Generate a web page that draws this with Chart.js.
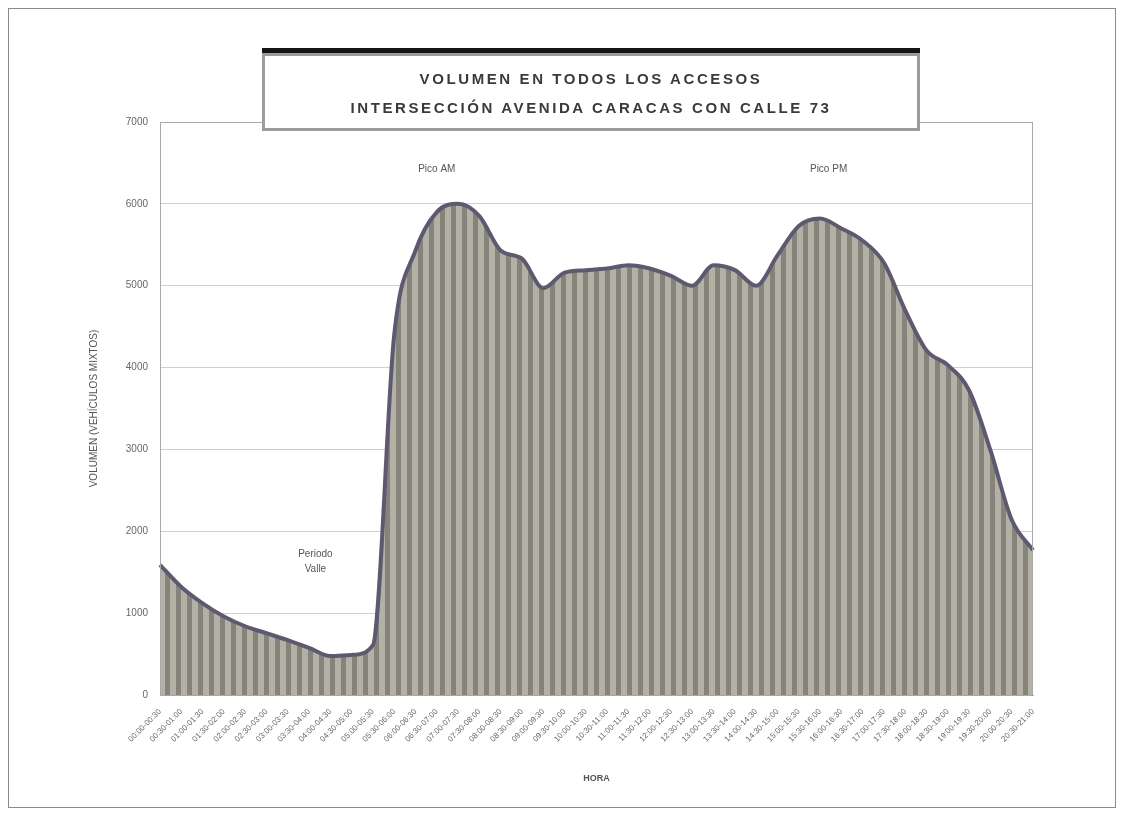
<!DOCTYPE html>
<html>
<head>
<meta charset="utf-8">
<title>Volumen en todos los accesos</title>
<script src="https://cdn.jsdelivr.net/npm/chart.js@4.4.1/dist/chart.umd.min.js"></script>
<style>
  body { margin: 0; background: #fff; font-family: "Liberation Sans", Arial, sans-serif; }
  #wrap { position: relative; width: 1124px; height: 816px; }
  #frame { position: absolute; left: 8px; top: 8px; width: 1106px; height: 798px; border: 1px solid #8a8a8a; }
  #titleBox {
    position: absolute; left: 262px; top: 53px; width: 652px; height: 72px;
    border: 3px solid #9c9c9c; box-shadow: 0 -5px 0 #151515; background: #fff;
    text-align: center; font-weight: bold; font-size: 15px; letter-spacing: 2.6px; color: #3a3a3a;
    line-height: 29px; padding-top: 8px; box-sizing: content-box; height: 64px;
  }
  canvas { position: absolute; left: 0; top: 0; }
</style>
</head>
<body>
<div id="wrap">
  <div id="frame"></div>
  <canvas id="volChart" width="1124" height="816"></canvas>
  <div id="titleBox">VOLUMEN EN TODOS LOS ACCESOS<br>INTERSECCIÓN AVENIDA CARACAS CON CALLE 73</div>
</div>
<script>
// time periods (30 min steps)
const periods = [
    '00:00-00:30', '00:30-01:00', '01:00-01:30', '01:30-02:00', '02:00-02:30', '02:30-03:00',
    '03:00-03:30', '03:30-04:00', '04:00-04:30', '04:30-05:00', '05:00-05:30', '05:30-06:00',
    '06:00-06:30', '06:30-07:00', '07:00-07:30', '07:30-08:00', '08:00-08:30', '08:30-09:00',
    '09:00-09:30', '09:30-10:00', '10:00-10:30', '10:30-11:00', '11:00-11:30', '11:30-12:00',
    '12:00-12:30', '12:30-13:00', '13:00-13:30', '13:30-14:00', '14:00-14:30', '14:30-15:00',
    '15:00-15:30', '15:30-16:00', '16:00-16:30', '16:30-17:00', '17:00-17:30', '17:30-18:00',
    '18:00-18:30', '18:30-19:00', '19:00-19:30', '19:30-20:00', '20:00-20:30', '20:30-21:00'
];

const volumes = [
    1590, 1320, 1120, 960, 840, 755, 670, 575, 475, 490, 610, 4400,
    5430, 5900, 6000, 5850, 5430, 5330, 4970, 5160, 5190, 5210, 5250, 5210,
    5120, 5000, 5250, 5190, 5000, 5370, 5730, 5820, 5700, 5550, 5280, 4700,
    4210, 4030, 3720, 2990, 2140, 1770
];

const yTicks = [0, 1000, 2000, 3000, 4000, 5000, 6000, 7000];

// notes written on the plot: text lines, category index, value
const notes = [
    { lines: ['Pico AM'], index: 13, value: 6420 },
    { lines: ['Pico PM'], index: 31.4, value: 6420 },
    { lines: ['Periodo', 'Valle'], index: 7.3, value: 1720 }
];

function stripePattern() {
    const c = document.createElement('canvas');
    c.width = 11;
    c.height = 4;
    const g = c.getContext('2d');
    g.fillStyle = '#b3b1a6';
    g.fillRect(0, 0, 11, 4);
    g.fillStyle = '#86847a';
    g.fillRect(0, 0, 5, 4);
    return g.createPattern(c, 'repeat');
}

const plotFrame = {
    id: 'plotFrame',
    afterDatasetsDraw(chart) {
        const a = chart.chartArea;
        const ctx = chart.ctx;
        ctx.save();
        ctx.strokeStyle = '#a8a8a8';
        ctx.lineWidth = 1;
        ctx.strokeRect(a.left + 0.5, a.top + 0.5, a.right - a.left - 1, a.bottom - a.top);
        ctx.restore();
    }
};

const plotNotes = {
    id: 'plotNotes',
    afterDraw(chart) {
        const ctx = chart.ctx;
        const xs = chart.scales.x;
        const ys = chart.scales.y;
        ctx.save();
        ctx.font = '10px "Liberation Sans", Arial, sans-serif';
        ctx.fillStyle = '#555';
        ctx.textAlign = 'center';
        ctx.textBaseline = 'middle';
        notes.forEach(n => {
            const px = xs.getPixelForValue(n.index);
            const py = ys.getPixelForValue(n.value);
            n.lines.forEach((t, i) => ctx.fillText(t, px, py + i * 15));
        });
        ctx.restore();
    }
};

const ctx = document.getElementById('volChart').getContext('2d');
new Chart(ctx, {
    type: 'line',
    data: {
        labels: periods,
        datasets: [{
            label: 'Volumen',
            data: volumes,
            borderColor: '#5d5a70',
            borderWidth: 4,
            backgroundColor: stripePattern(),
            fill: 'origin',
            pointRadius: 0,
            cubicInterpolationMode: 'monotone'
        }]
    },
    options: {
        responsive: false,
        animation: false,
        layout: { padding: { left: 88, right: 91, top: 122, bottom: 28 } },
        plugins: {
            legend: { display: false },
            tooltip: { enabled: false }
        },
        scales: {
            x: {
                offset: false,
                grid: { display: false },
                border: { color: '#a8a8a8' },
                ticks: {
                    autoSkip: false,
                    minRotation: 45,
                    maxRotation: 45,
                    color: '#666',
                    padding: 4,
                    font: { size: 8, family: '"Liberation Sans", Arial, sans-serif' }
                },
                title: {
                    display: true,
                    text: 'HORA',
                    color: '#555',
                    font: { size: 9, weight: 'bold', family: '"Liberation Sans", Arial, sans-serif' }
                },
                afterFit(scale) { scale.height = 816 - 695 - 28; }
            },
            y: {
                min: 0,
                max: 7000,
                afterBuildTicks(scale) { scale.ticks = yTicks.map(v => ({ value: v })); },
                grid: { color: '#cfcfcf', drawTicks: false },
                border: { color: '#a8a8a8' },
                ticks: {
                    color: '#666',
                    padding: 12,
                    callback: v => String(v),
                    font: { size: 10, family: '"Liberation Sans", Arial, sans-serif' }
                },
                title: {
                    display: true,
                    text: 'VOLUMEN (VEHÍCULOS MIXTOS)',
                    color: '#555',
                    padding: 0,
                    font: { size: 10, family: '"Liberation Sans", Arial, sans-serif' }
                },
                afterFit(scale) { scale.width = 160 - 88; }
            }
        }
    },
    plugins: [plotFrame, plotNotes]
});
</script>
</body>
</html>
